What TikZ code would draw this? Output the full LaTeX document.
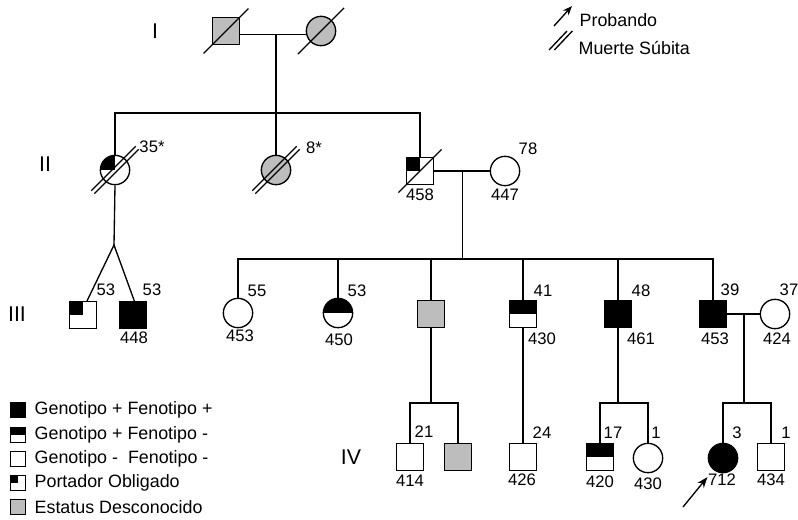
\documentclass[tikz,border=0pt]{standalone}
\usepackage{fontspec}
\setmainfont{Liberation Sans}
\usetikzlibrary{arrows.meta,calc}
\definecolor{unknowngray}{gray}{0.74}

\begin{document}
\begin{tikzpicture}
    [ x=.75pt, y=-.75pt, line width=1pt,
      male/.style={draw, rectangle, minimum size=20pt, inner sep=0pt},
      female/.style={draw, circle, minimum size=22pt, inner sep=0pt},
      healthy/.style={},
      affected/.style={fill=black},
      unknown/.style={fill=unknowngray},
      carrier/.style={path picture={\fill (path picture bounding box.west)
          rectangle (path picture bounding box.north east);}},
      obligate/.style={path picture={\fill (path picture bounding box.center)
          rectangle (path picture bounding box.north west);}},
      num/.style={font=\fontsize{12.5}{14}\selectfont, inner sep=0pt},
      gen/.style={font=\fontsize{16}{18}\selectfont, inner sep=0pt},
      key/.style={font=\fontsize{13.4}{15}\selectfont, anchor=west, inner sep=0pt},
      keysym/.style={draw, rectangle, minimum size=11pt, inner sep=0pt},
    ]
    \useasboundingbox (0,0) rectangle (798,519);

    % generation labels
    \node[gen] (gI) at (155,31) {I};
    \node[gen] (gII) at (45,164) {II};
    \node[gen] (gIII) at (17,314) {III};
    \node[gen] (gIV) at (351,457) {IV};

    % generation I
    \node[male, unknown] (I1) at (226,31) {};
    \node[female, unknown] (I2) at (321,31) {};

    % generation II
    \node[female, obligate] (II1) at (115,170) {};
    \node[female, unknown] (II2) at (276,170) {};
    \node[male, obligate] (II3) at (420,171) {};
    \node[female] (II4) at (505,171) {};

    % generation III
    \node[male, obligate] (III1) at (83,315) {};
    \node[male, affected] (III2) at (133,315) {};
    \node[female] (III3) at (238,313) {};
    \node[female, carrier] (III4) at (338,313) {};
    \node[male, unknown] (III5) at (431,314) {};
    \node[male, carrier] (III6) at (523,314) {};
    \node[male, affected] (III7) at (618,314) {};
    \node[male, affected] (III8) at (713,314) {};
    \node[female] (III9) at (775,314) {};

    % generation IV
    \node[male] (IV1) at (410,457) {};
    \node[male, unknown] (IV2) at (458,457) {};
    \node[male] (IV3) at (523,457) {};
    \node[male, carrier] (IV4) at (600,457) {};
    \node[female] (IV5) at (648,458) {};
    \node[female, affected] (IV6) at (723,458) {};
    \node[male] (IV7) at (771,457) {};

    % matings and sibships
    \coordinate (m1) at ([yshift=-2.5pt]I1 -| II2);
    \coordinate (s1) at (276,113);
    \draw ([yshift=-2.5pt]I1.east) -- ([yshift=-2.5pt]I1.east -| I2.west);
    \draw (m1) -- (II2.north);
    \draw (II1.north) |- (s1) -| (II3.north);

    \coordinate (tw) at (114,245);
    \draw (II1.south) -- (tw);
    \draw ([xshift=3pt]III1.north) -- (tw) -- ([xshift=1pt]III2.north);

    \coordinate (m2) at ($(II3)!.5!(II4)$);
    \coordinate (s2) at (462.5,259);
    \draw (II3) -- (II4);
    \draw (m2) -- (s2);
    \draw (III3.north) |- (s2) -| (III8.north);
    \foreach \c in {III4,III5,III6,III7}
        \draw (\c.north) -- (\c.north |- s2);

    \coordinate (m3) at ($(III8)!.5!(III9)$);
    \draw (III8) -- (III9);

    \coordinate (s3) at (431,403);
    \draw (III5.south) -- (s3);
    \draw (IV1.north) |- (s3) -| (IV2.north);
    \draw (III6.south) -- (IV3.north);
    \coordinate (s4) at (618,403);
    \draw (III7.south) -- (s4);
    \draw (IV4.north) |- (s4) -| (IV5.north);
    \coordinate (s5) at (m3 |- s3);
    \draw (m3) -- (s5);
    \draw (IV6.north) |- (s5) -| (IV7.north);

    % deceased / sudden death
    \foreach \n / \ext in {I1/9pt, I2/13pt, II3/8pt}
        \draw[shorten <=-\ext, shorten >=-\ext] (\n.south west) -- (\n.north east);
    \foreach \n in {II1, II2}
        \foreach \o in {-1.5, 1.5}
            \draw[shorten <=-12pt, shorten >=-12pt]
                ([shift={(\o,\o)}]\n.south west) -- ([shift={(\o,\o)}]\n.north east);

    % proband
    \coordinate (pb) at (683,507);
    \draw[-{Stealth[length=8pt, width=6pt]}, shorten >=7pt] (pb) -- (IV6);

    % ages and numbers
    \node[num] (a1) at (152,147) {35*};
    \node[num] (a2) at (314,148) {8*};
    \node[num] (n458) at (420,195) {458};
    \node[num] (a78) at (528,149) {78};
    \node[num] (n447) at (505,195) {447};

    \node[num] (a53a) at (106,290) {53};
    \node[num] (a53b) at (152,290) {53};
    \node[num] (n448) at (134,338) {448};
    \node[num] (a55) at (257,291) {55};
    \node[num] (n453a) at (240,336) {453};
    \node[num] (a53c) at (357,291) {53};
    \node[num] (n450) at (339,340) {450};
    \node[num] (a41) at (543,291) {41};
    \node[num] (n430a) at (542,339) {430};
    \node[num] (a48) at (641,291) {48};
    \node[num] (n461) at (641,339) {461};
    \node[num] (a39) at (730,290) {39};
    \node[num] (n453b) at (715,339) {453};
    \node[num] (a37) at (789,290) {37};
    \node[num] (n424) at (777,339) {424};

    \node[num] (a21) at (424,432) {21};
    \node[num] (n414) at (410,481) {414};
    \node[num] (a24) at (542,433) {24};
    \node[num] (n426) at (522,480) {426};
    \node[num] (a17) at (613,433) {17};
    \node[num] (n420) at (600,482) {420};
    \node[num] (a1b) at (656,433) {1};
    \node[num] (n430b) at (648,484) {430};
    \node[num] (a3) at (737,433) {3};
    \node[num] (n712) at (722,480) {712};
    \node[num] (a1c) at (786,433) {1};
    \node[num] (n434) at (771,480) {434};

    % key, top right
    \coordinate (ka) at (554,26);
    \coordinate (kb) at (572,6);
    \draw[-{Stealth[length=7pt, width=5.5pt]}] (ka) -- (kb);
    \node[key] (tpb) at (579,20) {Probando};
    \coordinate (kc) at (549,50);
    \coordinate (kd) at (567,31);
    \draw (kc) -- (kd);
    \draw ([xshift=4pt]kc) -- ([xshift=4pt]kd);
    \node[key] (tms) at (578,48) {Muerte Súbita};

    % key, bottom left
    \foreach \i / \y / \sty / \txt in {
        1/410/affected/{Genotipo + Fenotipo +},
        2/435/carrier/{Genotipo + Fenotipo -},
        3/459/healthy/{Genotipo -\ \ Fenotipo -},
        4/483/obligate/{Portador Obligado},
        5/507/unknown/{Estatus Desconocido}} {
        \node[keysym, \sty] (k\i) at (18,\y) {};
        \node[key] (t\i) at (34,\y) {\txt};
    }
\end{tikzpicture}
\end{document}
